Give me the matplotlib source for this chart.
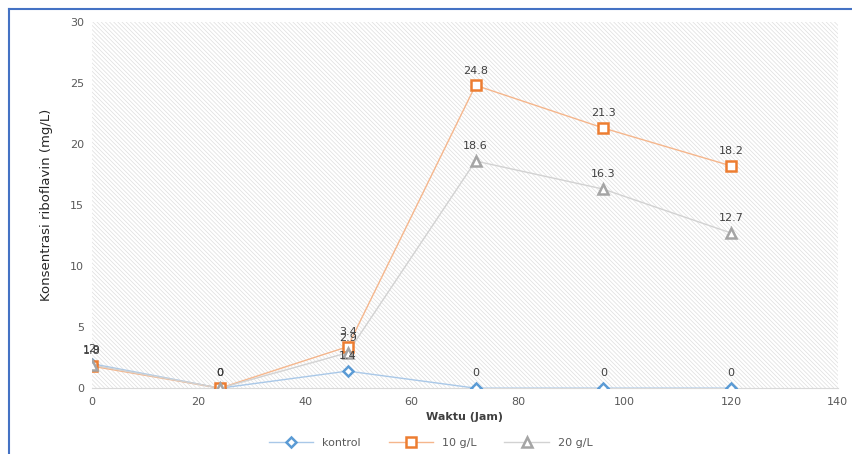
import numpy as np
import matplotlib.pyplot as plt
from matplotlib.lines import Line2D

# Data
waktu = [0, 24, 48, 72, 96, 120]
kontrol = [2, 0, 1.4, 0, 0, 0]
g10 = [1.8, 0, 3.4, 24.8, 21.3, 18.2]
g20 = [1.9, 0, 2.9, 18.6, 16.3, 12.7]
series_names = ['kontrol', '10 g/L', '20 g/L']

plt.rcParams['hatch.color'] = '#dedede'
plt.rcParams['hatch.linewidth'] = 0.5

fig = plt.figure(figsize=(8.53, 4.54), dpi=100)
ax = fig.add_axes([0.108, 0.145, 0.874, 0.807])

# hatched plot area
ax.patch.set_facecolor('white')
ax.patch.set_hatch('\\\\\\\\\\\\\\\\')
ax.patch.set_edgecolor('#dedede')
ax.patch.set_linewidth(0)

styles = [
    (kontrol, '#5B9BD5', '#a9c8e8', 'D', 5),
    (g10, '#ED7D31', '#f5b68c', 's', 7),
    (g20, '#A5A5A5', '#d2d2d2', '^', 7),
]
handles = []
for (vals, c, lc, m, ms), name in zip(styles, series_names):
    ax.plot(waktu, vals, color=lc, linewidth=1.0, zorder=3)
    ax.plot(waktu, vals, linestyle='none', marker=m, markersize=ms,
            markerfacecolor='white', markeredgecolor=c, markeredgewidth=1.8, zorder=4)
    h = Line2D([0], [0], color=lc, linewidth=1.0, marker=m, markersize=ms,
               markerfacecolor='white', markeredgecolor=c, markeredgewidth=1.8)
    handles.append(h)
    for x, y in zip(waktu, vals):
        lbl = f'{y:g}'
        ax.annotate(lbl, (x, y), xytext=(0, 7), textcoords='offset points',
                    ha='center', va='bottom', fontsize=8, color='#404040', zorder=5)

ax.set_xlim(0, 140)
ax.set_ylim(0, 30)
ax.set_xticks(range(0, 141, 20))
ax.set_yticks(range(0, 31, 5))
ax.tick_params(length=0, labelsize=8, labelcolor='#595959', pad=6)
for s in ['top', 'right', 'left']:
    ax.spines[s].set_visible(False)
ax.spines['bottom'].set_color('#d9d9d9')

ax.set_xlabel('Waktu (Jam)', fontsize=8, fontweight='bold', color='#404040', labelpad=4)
ax.set_ylabel('Konsentrasi riboflavin (mg/L)', fontsize=9.5, color='#262626', labelpad=12)

fig.legend(handles, series_names, loc='center', bbox_to_anchor=(0.505, 0.025),
           ncol=3, frameon=False, fontsize=8, labelcolor='#595959',
           handlelength=4, columnspacing=2.5)

# blue frame on left and top
fig.add_artist(Line2D([9/853, 9/853], [0, 1 - 9/454], color='#4472C4', linewidth=1.5))
fig.add_artist(Line2D([9/853, 1], [1 - 9/454, 1 - 9/454], color='#4472C4', linewidth=1.5))

fig.savefig('out.png', dpi=100)
